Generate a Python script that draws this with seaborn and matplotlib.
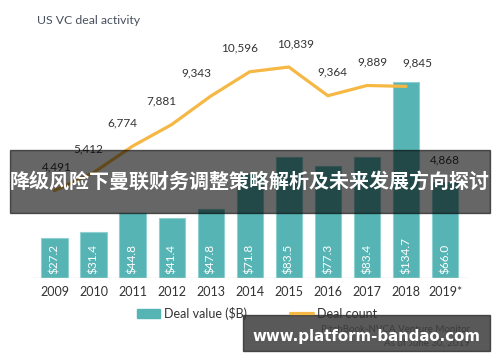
import pandas as pd
import seaborn as sns
import matplotlib.pyplot as plt
from matplotlib.patches import Rectangle
from matplotlib.lines import Line2D
from matplotlib.patches import Patch

# Dados
years = ['2009', '2010', '2011', '2012', '2013', '2014', '2015', '2016', '2017', '2018', '2019*']
deal_value = [27.2, 31.4, 44.8, 41.4, 47.8, 71.8, 83.5, 77.3, 83.4, 134.7, 66.0]
deal_count = [4491, 5412, 6774, 7881, 9343, 10596, 10839, 9364, 9889, 9845, 4868]
line_years = 10  # the line stops at 2018, 2019* only has a label

# deslocamento horizontal dos rótulos da linha (em pontos)
label_dx = [2, -4, -7, -7, -10, -7, 5, 3, 4, 8, 0]

teal = '#56b4b4'
orange = '#f6b844'
txt = '#333333'

sns.set_theme(style='white')
plt.rcParams['font.family'] = ['Lato', 'DejaVu Sans']

df = pd.DataFrame({'year': years, 'value': deal_value, 'count': deal_count})
df['pos'] = range(len(df))

fig = plt.figure(figsize=(5, 3.62), dpi=100)
W, H = 500, 362
ax = fig.add_axes([31 / W, 1 - 278 / H, 437.5 / W, 218 / H])

sns.barplot(data=df, x='year', y='value', color=teal, width=0.67,
            edgecolor='#8fd0d0', linewidth=0.8, saturation=1, ax=ax)
ax.set_xlim(-0.6, 10.6)
ax.set_ylim(0, 150)
for i, v in enumerate(deal_value):
    ax.text(i, 3, f'${v:.1f}', rotation=90, ha='center', va='bottom',
            color='white', fontsize=8.5)

ax.axhline(0, color='#dddddd', lw=1)
ax.set_xlabel('')
ax.set_ylabel('')
ax.set_yticks([])
ax.tick_params(axis='x', length=0, labelsize=9, labelcolor=txt, pad=6)
sns.despine(ax=ax, left=True, bottom=True)

ax2 = ax.twinx()
sns.lineplot(data=df.iloc[:line_years], x='pos', y='count', color=orange,
             lw=2.3, ax=ax2)
ax2.set_ylim(0, 11200)
ax2.set_yticks([])
ax2.set_ylabel('')
ax2.set_xlim(-0.6, 10.6)
sns.despine(ax=ax2, left=True, bottom=True, right=True)
for i, c in enumerate(deal_count):
    ax2.annotate(f'{c:,}', (i, c), xytext=(label_dx[i], 13),
                 textcoords='offset points', ha='center', va='bottom',
                 fontsize=8.5, color=txt, annotation_clip=False)

fig.text(37 / W, 1 - 20 / H, 'US VC deal activity', fontsize=8.8,
         color='#47505e', va='center', ha='left')

handles = [Patch(color=teal), Line2D([], [], color=orange, lw=2.3)]
fig.legend(handles, ['Deal value ($B)', 'Deal count'], loc='center',
           bbox_to_anchor=(257 / W, 1 - 313 / H), ncol=2, frameon=False,
           fontsize=9, handlelength=1.8, columnspacing=3.5, handletextpad=0.3,
           labelcolor=txt)

fig.text(470 / W, 1 - 330 / H, 'PitchBook-NVCA Venture Monitor', fontsize=7,
         color='#888888', ha='right', va='center')
fig.text(470 / W, 1 - 343 / H, 'As of June 30, 2019', fontsize=7,
         color='#888888', ha='right', va='center')

# Faixa escura com o título chinês
fig.patches.append(Rectangle((10 / W, 1 - 213 / H), 480 / W, 63 / H,
                             transform=fig.transFigure, color='black',
                             alpha=0.6, zorder=5))
fig.text(250 / W, 1 - 181 / H, '降级风险下曼联财务调整策略解析及未来发展方向探讨',
         color='white', fontsize=14.4, fontweight='bold', ha='center',
         va='center', family=['Noto Sans CJK SC', 'DejaVu Sans'], zorder=6)

# Marca d'água
fig.patches.append(Rectangle((243 / W, 1 - 351 / H), 247 / W, 36 / H,
                             transform=fig.transFigure, color='#222222',
                             alpha=0.75, zorder=5))
fig.text(366 / W, 1 - 336 / H, 'www.platform-bandao.com', color='white',
         fontsize=10.8, fontweight='bold', ha='center', va='center',
         family='DejaVu Sans', zorder=6)

fig.savefig('out.png', dpi=100)
